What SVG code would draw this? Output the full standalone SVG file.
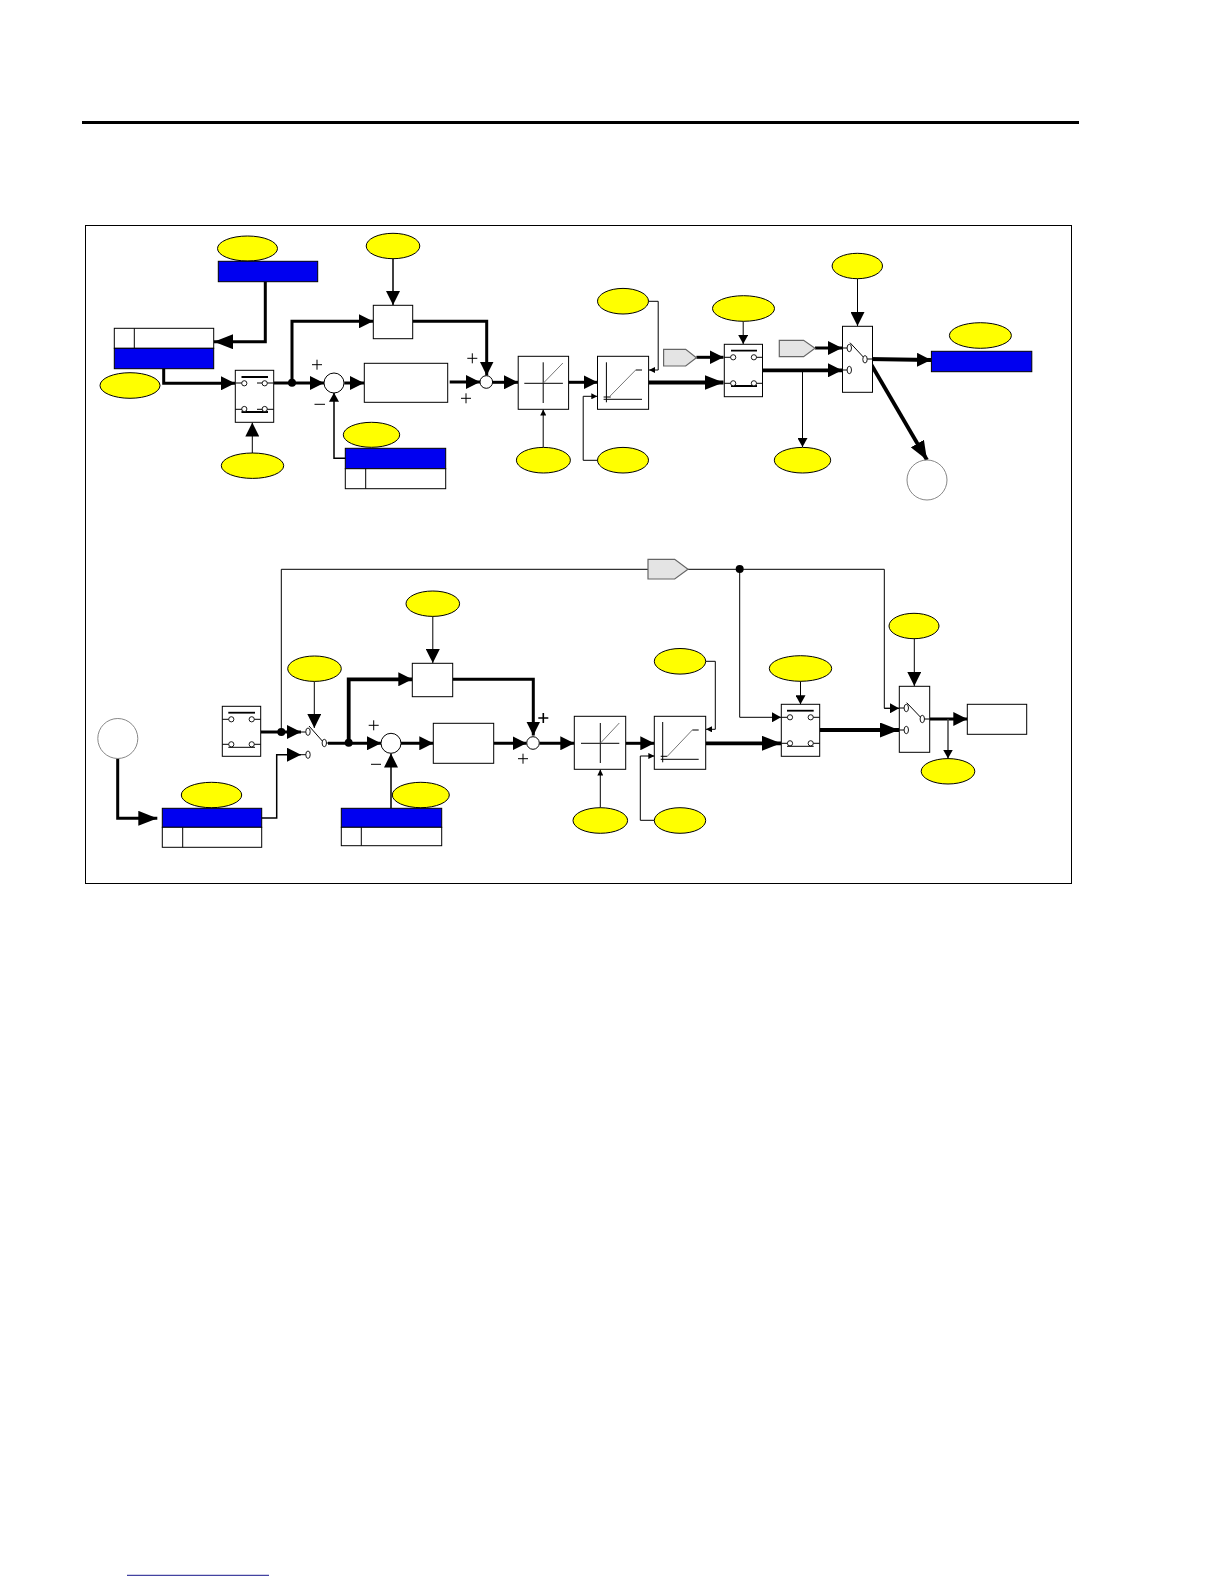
<svg xmlns="http://www.w3.org/2000/svg" width="1224" height="1584" viewBox="0 0 1224 1584">
<style>
.b{fill:#fff;stroke:#000;stroke-width:1}
.blue{fill:#0000f0;stroke:#000;stroke-width:1}
.y{fill:#ff0;stroke:#000;stroke-width:1}
.g{fill:#e4e4e4;stroke:#666;stroke-width:1.2}
.ring{fill:#fff;stroke:#888;stroke-width:1}
.l{fill:none;stroke:#000;stroke-width:1}
.m{fill:none;stroke:#000;stroke-width:1.5}
.t{fill:none;stroke:#000;stroke-width:3}
.x{fill:none;stroke:#000;stroke-width:3.8}
.gr{fill:none;stroke:#777;stroke-width:1}
.bar{stroke:#000;stroke-width:1.8}
.c{fill:#fff;stroke:#000;stroke-width:.9}
.d{fill:#000}
.ah{marker-end:url(#big)}
.ap{marker-end:url(#huge)}
.am{marker-end:url(#mid)}
.as{marker-end:url(#small)}
</style>
<defs>
<marker id="big" markerUnits="userSpaceOnUse" markerWidth="15" markerHeight="14" refX="14" refY="7" orient="auto"><path d="M0 0L14 7L0 14z"/></marker>
<marker id="huge" markerUnits="userSpaceOnUse" markerWidth="19" markerHeight="15" refX="19" refY="7.500" orient="auto"><path d="M0 0L19 7.500L0 15z"/></marker>
<marker id="mid" markerUnits="userSpaceOnUse" markerWidth="9" markerHeight="10" refX="9" refY="5" orient="auto"><path d="M0 0L9 5L0 10z"/></marker>
<marker id="small" markerUnits="userSpaceOnUse" markerWidth="6" markerHeight="6" refX="6" refY="3" orient="auto"><path d="M0 0L6 3L0 6z"/></marker>
</defs>
<rect width="1224" height="1584" fill="#fff"/>
<path id="header-rule" d="M82 122.500H1079" stroke="#000" stroke-width="3" fill="none"/>
<path id="footer-rule" d="M127 1575.300H269" stroke="#15158a" stroke-width="1" fill="none"/>
<rect id="frame" x="85.500" y="225.500" width="986" height="658" fill="none" stroke="#000" stroke-width="1"/>

<g id="connectors">
<path class="t ap" d="M265.300 281.700V341.700H214"/>
<path class="t ah" d="M163.700 368.700V383.300H235"/>
<path class="t ah" d="M273.700 383H324"/>
<path class="t ah" d="M292 382.700V321.300H373"/>
<path class="m ah" d="M393 258.700V305"/>
<path class="t ah" d="M412.700 321.300H486.700V375.500"/>
<path class="t ah" d="M344.300 383H364"/>
<path class="t ah" d="M449.700 382H480"/>
<path class="t ah" d="M492.500 382.300H518"/>
<path class="m am" d="M345.300 458.300H334V392.700"/>
<path class="l ah" d="M252.300 453V422.500"/>
<path class="l as" d="M543.200 447.300V409.500"/>
<path class="t ah" d="M568.600 382.300H597.500"/>
<path class="x ap" d="M648.600 382.500H723.500"/>
<path class="l as" d="M648.600 301.300H658.200V370H649"/>
<path class="l as" d="M597.500 460.300H583.200V396.300H597.300"/>
<path class="t ah" d="M696.400 357.300H723.500"/>
<path class="l am" d="M743.200 321.300V344"/>
<path class="x ah" d="M762.500 370.300H842"/>
<path class="t ah" d="M815 348H842"/>
<path class="l ah" d="M857.500 278.700V326"/>
<path class="l am" d="M802.500 370.300V447"/>
<path class="x ah" d="M868 359L931 360"/>
<path class="x ap" d="M868 359L927 460"/>

<path class="l" d="M281.300 732V569.300H648"/>
<path class="l" d="M688 569.300H884.300V708.300H899"/>
<path class="l am" d="M739.700 569.300V717.300H781"/>
<path class="l am" d="M884.300 708.300H899"/>
<path class="t ap" d="M117.700 758.300V818.300H157.300"/>
<path class="m ah" d="M261.700 818H276.700V754.700H301"/>
<path class="l" d="M301 754.700H306"/>
<path class="t ah" d="M260.700 732H301"/>
<path class="l" d="M301 732H306"/>
<path class="m ah" d="M391 808.300V753.500"/>
<path class="l ah" d="M314.300 681.300V728"/>
<path class="t ah" d="M328 743.300H381"/>
<path class="x ah" d="M348.700 742.700V679.300H412.300"/>
<path class="l ah" d="M432.800 616.300V663"/>
<path class="t ah" d="M401 743.300H433.300"/>
<path class="t ah" d="M493.700 743.300H526.500"/>
<path class="t ah" d="M452.700 679.300H533.300V735.500"/>
<path class="t ah" d="M539.500 743.300H574.300"/>
<path class="l as" d="M600.300 807.700V769.500"/>
<path class="t ah" d="M625.700 743.300H654.300"/>
<path class="l as" d="M705.700 661.300H715.300V729.300H706"/>
<path class="l as" d="M654.300 820.300H640.300V756H654.300"/>
<path class="x ap" d="M705.700 743.300H781"/>
<path class="l am" d="M800.500 681.300V704.300"/>
<path class="x ap" d="M819.700 730H899"/>
<path class="l ah" d="M914.300 638.700V686"/>
<path class="t ah" d="M929.700 719H967.300"/>
<path class="m am" d="M948 719V758.500" style="stroke:#444"/>
</g>

<g id="node-oval-1"><ellipse class="y" cx="247.500" cy="248.500" rx="30" ry="12.500"/></g>
<g id="node-bar-1"><rect class="blue" x="218.300" y="261.300" width="99.400" height="20.400"/></g>
<g id="node-table-1"><rect class="b" x="114.300" y="328.300" width="99.400" height="20"/><path class="l" d="M134.300 328.300V348.300"/><rect class="blue" x="114.300" y="348.300" width="99.400" height="20.400"/></g>
<g id="node-oval-2"><ellipse class="y" cx="130" cy="385.500" rx="30" ry="12.800"/></g>
<g id="node-oval-3"><ellipse class="y" cx="393" cy="246" rx="26.800" ry="12.700"/></g>
<g id="node-box-1"><rect class="b" x="373.300" y="305.300" width="39.400" height="33.400"/></g>
<g id="node-box-2"><rect class="b" x="364.300" y="363.300" width="83.400" height="39"/></g>
<g id="node-switch-1"><rect class="b" x="235.300" y="370.300" width="38.400" height="52"/><path class="l" d="M235.300 383H244M257 383H273.700M235.300 409.300H244M257 409.300H273.700"/><path class="bar" d="M241.500 377H268M241.500 412H268"/><circle class="c" cx="244.300" cy="383.300" r="2.600"/><circle class="c" cx="264.700" cy="383.300" r="2.600"/><circle class="c" cx="244.300" cy="409" r="2.600"/><circle class="c" cx="264.700" cy="409" r="2.600"/></g>
<g id="node-sum-1"><circle class="b" cx="334" cy="383" r="10"/></g>
<circle id="node-junction-1" class="d" cx="292" cy="382.700" r="4"/>
<g id="node-sum-2"><circle class="b" cx="486.300" cy="382" r="6.300"/></g>
<g id="signs" fill="none" stroke="#000" stroke-width="1"><path d="M312 364.700H322M317 359.700V369.700M314.500 404.300H325M467.300 358.300H477.300M472.300 353.300V363.300M461 398.300H471M466 393.300V403.300"/>
<path d="M368.700 725.300H378.700M373.700 720.300V730.300M371 764.300H381M518 758.700H528M523 753.700V763.700"/><path stroke-width="1.600" d="M538.300 718H548.300M543.300 713V723"/></g>
<g id="node-oval-4"><ellipse class="y" cx="252.500" cy="465.700" rx="31.200" ry="12.700"/></g>
<g id="node-oval-5"><ellipse class="y" cx="371.500" cy="434.800" rx="28.200" ry="12.500"/></g>
<g id="node-table-2"><rect class="blue" x="345.300" y="448.300" width="100.400" height="20.400"/><rect class="b" x="345.300" y="468.700" width="100.400" height="20"/><path class="l" d="M365.700 468.700V488.700"/></g>
<g id="node-limit-1"><rect class="b" x="518.200" y="356.300" width="50.400" height="53"/><path class="l" d="M543.200 362.300V403M524.300 383.300H562.900"/><path class="gr" d="M543.200 383.300L562.900 363"/></g>
<g id="node-limit-2"><rect class="b" x="597.500" y="356.300" width="51.100" height="53"/><path class="l" d="M606.400 362.300V402.300M603.600 399.300H642M603.600 397H610.700M635.700 370H642"/><path class="gr" d="M608.900 397.300L635.700 370"/></g>
<g id="node-oval-6"><ellipse class="y" cx="623" cy="301.200" rx="25.500" ry="12.800"/></g>
<g id="node-oval-7"><ellipse class="y" cx="543.400" cy="460.200" rx="27" ry="12.800"/></g>
<g id="node-oval-8"><ellipse class="y" cx="623" cy="460.200" rx="25.500" ry="12.800"/></g>
<g id="node-tag-1"><path class="g" d="M663.600 349.300H685.700L696.400 357.700L685.700 366H663.600z"/></g>
<g id="node-switch-2"><rect class="b" x="724.300" y="344.300" width="38.200" height="52.400"/><path class="l" d="M724.300 357.300H731M756 357.300H762.500M724.300 383.300H731M756 383.300H762.500"/><path class="bar" d="M731 350.700H757M731 386H757"/><circle class="c" cx="733.200" cy="357.300" r="2.600"/><circle class="c" cx="753.900" cy="357.300" r="2.600"/><circle class="c" cx="733.200" cy="383.300" r="2.600"/><circle class="c" cx="753.900" cy="383.300" r="2.600"/></g>
<g id="node-oval-9"><ellipse class="y" cx="743.500" cy="308.500" rx="31" ry="12.800"/></g>
<g id="node-tag-2"><path class="g" d="M779.300 340.300H803.600L815 348.300L803.600 356.700H779.300z"/></g>
<g id="node-selector-1"><rect class="b" x="842.500" y="326.300" width="30" height="66"/><path class="l" d="M842.500 348H847M842.500 370H847M850 342.700L863.600 357.300M867 359H872.500"/><ellipse class="c" cx="849.300" cy="348" rx="2.200" ry="3.700"/><ellipse class="c" cx="849.300" cy="370" rx="2.200" ry="3.700"/><ellipse class="c" cx="865" cy="359.300" rx="2.200" ry="3.700"/></g>
<g id="node-oval-10"><ellipse class="y" cx="857.300" cy="266" rx="25.200" ry="12.700"/></g>
<g id="node-oval-11"><ellipse class="y" cx="802.500" cy="460.200" rx="28.200" ry="12.800"/></g>
<g id="node-oval-12"><ellipse class="y" cx="980.400" cy="335.500" rx="31" ry="12.800"/></g>
<g id="node-bar-2"><rect class="blue" x="931.400" y="351.300" width="100.400" height="20.400"/></g>
<g id="node-ring-1"><circle class="ring" cx="927" cy="480" r="20"/></g>

<g id="node-ring-2"><circle class="ring" cx="117.800" cy="738.500" r="20"/></g>
<g id="node-oval-13"><ellipse class="y" cx="211.500" cy="795" rx="30.200" ry="12.700"/></g>
<g id="node-table-3"><rect class="blue" x="162.300" y="808.300" width="99.400" height="19"/><rect class="b" x="162.300" y="827.300" width="99.400" height="20"/><path class="l" d="M182.700 827.300V847.300"/></g>
<g id="node-table-4"><rect class="blue" x="341.300" y="808.300" width="100.400" height="19"/><rect class="b" x="341.300" y="827.300" width="100.400" height="18.400"/><path class="l" d="M361.300 827.300V845.700"/></g>
<g id="node-oval-14"><ellipse class="y" cx="420.800" cy="795" rx="28.500" ry="12.700"/></g>
<g id="node-switch-3"><rect class="b" x="222.300" y="706.300" width="38.400" height="50"/><path class="l" d="M222.300 719.300H229M254 719.300H260.700M222.300 744.300H229M254 744.300H260.700"/><path class="bar" d="M228.300 712.700H255"/><path class="l" d="M228.300 747.300H255"/><circle class="c" cx="231.300" cy="719.300" r="2.600"/><circle class="c" cx="251.700" cy="719.300" r="2.600"/><circle class="c" cx="231.300" cy="744.300" r="2.600"/><circle class="c" cx="251.700" cy="744.300" r="2.600"/></g>
<circle id="node-junction-2" class="d" cx="281.300" cy="732" r="4"/>
<g id="node-selector-2"><path class="l" d="M309 726L322.300 741M326 743H330"/><ellipse class="c" cx="308" cy="731.700" rx="2.200" ry="3.700"/><ellipse class="c" cx="308" cy="754.700" rx="2.200" ry="3.700"/><ellipse class="c" cx="324.300" cy="743" rx="2.200" ry="3.700"/></g>
<g id="node-oval-15"><ellipse class="y" cx="314.500" cy="668.700" rx="26.800" ry="12.700"/></g>
<circle id="node-junction-3" class="d" cx="348.700" cy="742.700" r="4"/>
<g id="node-box-3"><rect class="b" x="412.300" y="663.300" width="40.400" height="33.400"/></g>
<g id="node-oval-16"><ellipse class="y" cx="432.800" cy="603.700" rx="26.800" ry="12.700"/></g>
<g id="node-sum-3"><circle class="b" cx="391" cy="743.300" r="10"/></g>
<g id="node-box-4"><rect class="b" x="433.300" y="723.300" width="60.400" height="40"/></g>
<g id="node-sum-4"><circle class="b" cx="533" cy="743" r="6.300"/></g>
<g id="node-tag-3"><path class="g" d="M648 559.300H674.700L688 569.300L674.700 579H648z"/></g>
<circle id="node-junction-4" class="d" cx="739.700" cy="569" r="4"/>
<g id="node-limit-3"><rect class="b" x="574.300" y="716.300" width="51.400" height="53"/><path class="l" d="M600.300 723V763M581 743.300H619.300"/><path class="gr" d="M600.300 743.300L619.300 723"/></g>
<g id="node-limit-4"><rect class="b" x="654.300" y="716.300" width="51.400" height="53"/><path class="l" d="M662.700 722V762.300M660.700 759.300H698.700M660.700 756.300H667.300M692.300 730H698.700"/><path class="gr" d="M667.300 756.300L692.300 730"/></g>
<g id="node-oval-17"><ellipse class="y" cx="680" cy="661.300" rx="25.700" ry="12.800"/></g>
<g id="node-oval-18"><ellipse class="y" cx="600.300" cy="820.500" rx="27.300" ry="12.800"/></g>
<g id="node-oval-19"><ellipse class="y" cx="680" cy="820.500" rx="25.700" ry="12.800"/></g>
<g id="node-switch-4"><rect class="b" x="781.300" y="704.300" width="38.400" height="52"/><path class="l" d="M781.300 717.300H788M813 717.300H819.700M781.300 743.300H788M813 743.300H819.700"/><path class="bar" d="M787 710.700H813.700"/><path class="l" d="M787 746.300H813.700"/><circle class="c" cx="790" cy="717.300" r="2.600"/><circle class="c" cx="810.700" cy="717.300" r="2.600"/><circle class="c" cx="790" cy="743.300" r="2.600"/><circle class="c" cx="810.700" cy="743.300" r="2.600"/></g>
<g id="node-oval-20"><ellipse class="y" cx="800.500" cy="668.500" rx="31.200" ry="12.800"/></g>
<g id="node-selector-3"><rect class="b" x="899.300" y="686.300" width="30.400" height="66"/><path class="l" d="M899.300 708H904M899.300 730H904M906.700 702.700L921 717.700M924 719H929.700"/><ellipse class="c" cx="906.300" cy="708" rx="2.200" ry="3.700"/><ellipse class="c" cx="906.300" cy="730" rx="2.200" ry="3.700"/><ellipse class="c" cx="922.300" cy="719" rx="2.200" ry="3.700"/></g>
<g id="node-oval-21"><ellipse class="y" cx="914" cy="626" rx="25" ry="12.700"/></g>
<g id="node-box-5"><rect class="b" x="967.300" y="704.300" width="59.400" height="30"/></g>
<g id="node-oval-22"><ellipse class="y" cx="948" cy="771.300" rx="26.800" ry="12.700"/></g>
</svg>
